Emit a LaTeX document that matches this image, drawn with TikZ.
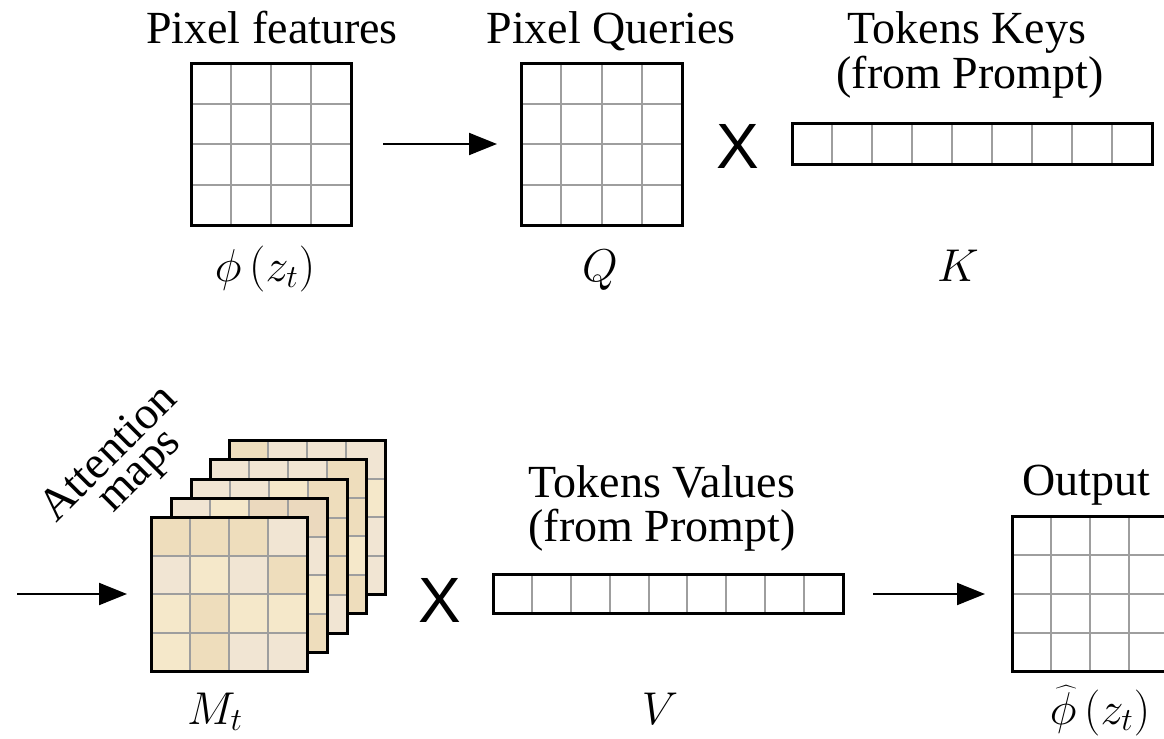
\RequirePackage{fix-cm}
\documentclass[tikz,border=0pt]{standalone}
\usepackage[no-math]{fontspec}
\setmainfont{Liberation Serif}
\newfontfamily\crossfont{Liberation Sans}
\usetikzlibrary{arrows.meta,calc}

\definecolor{tanA}{RGB}{238,221,188}
\definecolor{tanB}{RGB}{241,229,211}
\definecolor{tanC}{RGB}{245,232,202}
\definecolor{tanD}{RGB}{235,217,190}

% one attention map: name, left, top, sixteen cell colours (row by row)
\newcommand\attlayer[4]{%
  \foreach \c [count=\i from 0] in {#4}{%
    \pgfmathtruncatemacro\rr{floor(\i/4)}%
    \pgfmathtruncatemacro\qq{mod(\i,4)}%
    \fill[\c] (#2+\qq*39, #3+\rr*38.5) rectangle ++(39,38.5);
  }
  \node[frame, cells={4}{4}, minimum width=78pt, minimum height=77pt] (#1) at (#2+78, #3+77) {};
}

\begin{document}
\begin{tikzpicture}[x=0.5pt, y=-0.5pt,
  txt/.style={font=\rmfamily\fontsize{23}{22.5}\selectfont, inner sep=0pt, anchor=base, align=center},
  frame/.style={draw=black, line width=1.5pt, inner sep=0pt},
  cellline/.style={draw=black!38, line width=1pt},
  cells/.style n args={2}{path picture={
    \foreach \k in {1,...,#1}{%
      \pgfmathsetmacro\f{\k/#1}%
      \draw[cellline] ($(path picture bounding box.north west)!\f!(path picture bounding box.north east)$)
        -- ($(path picture bounding box.south west)!\f!(path picture bounding box.south east)$);
    }
    \foreach \k in {1,...,#2}{%
      \pgfmathsetmacro\f{\k/#2}%
      \draw[cellline] ($(path picture bounding box.north west)!\f!(path picture bounding box.south west)$)
        -- ($(path picture bounding box.north east)!\f!(path picture bounding box.south east)$);
    }
  }},
  arr/.style={-{Triangle[length=14pt,width=11pt]}, line width=1pt},
  xsym/.style={font=\crossfont\fontsize{32}{32}\selectfont, inner sep=0pt}]

\useasboundingbox (0,0) rectangle (1164,739);
\clip (0,0) rectangle (1164,739);

% ---------- top row ----------
\node[frame, cells={4}{4}, minimum width=80pt, minimum height=81pt] (feat) at (271,144) {};
\node[frame, cells={4}{4}, minimum width=80.5pt, minimum height=81pt] (qry) at (601.5,144) {};
\node[frame, cells={9}{1}, minimum width=180pt, minimum height=20.5pt] (key) at (972,143.5) {};

\node[txt] (tFeat) at (272,43) {Pixel features};
\node[txt] (tQry) at (611,43) {Pixel Queries};
\node[txt] (tKey1) at (967,43) {Tokens Keys};
\node[txt] (tKey2) at (970,88) {(from Prompt)};

\node[txt] (mPhi) at (265,281) {$\phi\left(z_t\right)$};
\node[txt] (mQ) at (600,281) {$Q$};
\node[txt] (mK) at (958,281) {$K$};

\node[xsym] (x1) at (738,146) {X};
\draw[arr, shorten <=15.25pt, shorten >=11.25pt] (feat) -- (qry);

% ---------- bottom row ----------
\attlayer{att5}{229}{440}{tanA,tanB,tanB,tanB, tanB,tanB,tanB,tanC, tanB,tanB,tanB,tanB, tanB,tanB,tanB,tanB}
\attlayer{att4}{210}{459}{tanB,tanB,tanB,tanA, tanB,tanB,tanB,tanA, tanB,tanB,tanB,tanC, tanB,tanB,tanB,tanA}
\attlayer{att3}{191}{479}{tanB,tanB,tanC,tanA, tanB,tanB,tanB,tanA, tanB,tanB,tanB,tanA, tanB,tanB,tanB,tanB}
\attlayer{att2}{171}{498}{tanB,tanC,tanD,tanD, tanB,tanB,tanB,tanB, tanB,tanB,tanB,tanC, tanB,tanB,tanB,tanA}
\attlayer{att1}{151}{517}{tanA,tanA,tanA,tanB, tanB,tanC,tanB,tanA, tanC,tanA,tanC,tanC, tanC,tanA,tanB,tanB}

\node[txt, rotate=45] (tAtt1) at (117.5,462.5) {Attention};
\node[txt, rotate=45] (tAtt2) at (148,479) {maps};
\coordinate (inL) at (17,594);
\draw[arr, shorten >=11.25pt] (inL) -- (att1);

\node[xsym] (x2) at (440,600) {X};
\node[frame, cells={9}{1}, minimum width=175pt, minimum height=19.5pt] (val) at (668,594) {};
\node[txt] (tVal1) at (662,497) {Tokens Values};
\node[txt] (tVal2) at (662,541) {(from Prompt)};

\node[frame, cells={4}{4}, minimum width=78pt, minimum height=77.5pt] (out) at (1090,594) {};
\node[txt] (tOut) at (1086,495) {Output};
\draw[arr, shorten <=14.25pt, shorten >=12.75pt] (val) -- (out);

\node[txt] (mM) at (215,724) {$M_t$};
\node[txt] (mV) at (660,724) {$V$};
\node[txt] (mOut) at (1100,724) {$\widehat{\phi}\left(z_t\right)$};
\end{tikzpicture}
\end{document}
